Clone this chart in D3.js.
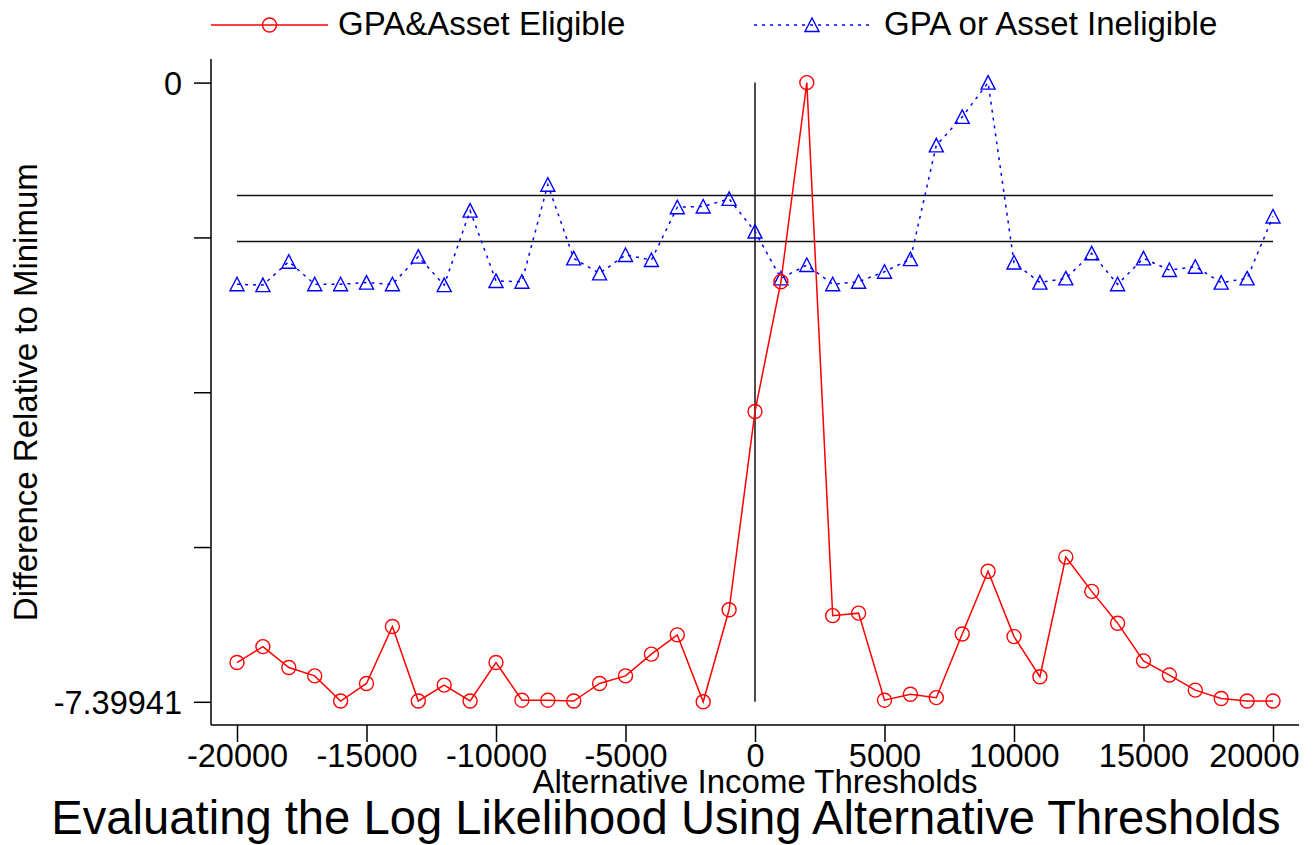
<!DOCTYPE html>
<html>
<head>
<meta charset="utf-8">
<script src="https://cdn.jsdelivr.net/npm/d3@7"></script>
<style>
  html, body { margin: 0; padding: 0; background: #fff; }
  svg { display: block; font-family: "Liberation Sans", Arial, Helvetica, sans-serif; }
</style>
</head>
<body>
<svg id="chart" width="1315" height="845"></svg>
<script>
// Income thresholds (x categories)
const thresholds = [
  -20000, -19000, -18000, -17000, -16000, -15000, -14000, -13000, -12000, -11000,
  -10000, -9000, -8000, -7000, -6000, -5000, -4000, -3000, -2000, -1000,
  0, 1000, 2000, 3000, 4000, 5000, 6000, 7000, 8000, 9000,
  10000, 11000, 12000, 13000, 14000, 15000, 16000, 17000, 18000, 19000, 20000
];

// Log-likelihood difference relative to minimum: GPA & Asset eligible
const eligible = [
  -6.93, -6.74, -6.99, -7.09, -7.39, -7.18, -6.50, -7.39, -7.20, -7.39,
  -6.93, -7.38, -7.38, -7.39, -7.18, -7.09, -6.83, -6.60, -7.39941, -6.30,
  -3.93, -2.38, 0, -6.37, -6.34, -7.38, -7.31, -7.35, -6.59, -5.84,
  -6.62, -7.10, -5.67, -6.08, -6.46, -6.91, -7.08, -7.26, -7.36, -7.39, -7.39
];

// GPA or Asset ineligible
const ineligible = [
  -2.41, -2.42, -2.14, -2.41, -2.41, -2.39, -2.41, -2.08, -2.42, -1.53,
  -2.37, -2.38, -1.22, -2.10, -2.28, -2.06, -2.12, -1.49, -1.48, -1.39,
  -1.78, -2.34, -2.18, -2.41, -2.38, -2.26, -2.11, -0.75, -0.41, 0,
  -2.15, -2.39, -2.34, -2.04, -2.41, -2.10, -2.24, -2.20, -2.39, -2.34, -1.60
];

// Axis ticks
const xTicks = [-20000, -15000, -10000, -5000, 0, 5000, 10000, 15000, 20000];
const yTicks = [0, -1.85, -3.70, -5.55, -7.39941];
const yTickLabels = ["0", "", "", "", "-7.39941"];

// Horizontal reference lines
const refLines = [-1.35, -1.90];

const seriesNames = ["GPA&Asset Eligible", "GPA or Asset Ineligible"];
const seriesColors = ["#ff0000", "#0000ff"];

const svg = d3.select("#chart");
const TICK_FONT = 32.5;
const LABEL_FONT = 33;

const x = d3.scaleLinear().domain([-20000, 20000]).range([237, 1273]);
const y = d3.scaleLinear().domain([-7.39941, 0]).range([701.8, 82.6]);

const axisLeftX = 211, axisBottomY = 725;
const axisTopY = 59, axisRightX = 1299;

// Axis lines
svg.append("line")
  .attr("x1", axisLeftX).attr("x2", axisLeftX)
  .attr("y1", axisTopY).attr("y2", axisBottomY)
  .attr("stroke", "#000").attr("stroke-width", 1.5);
svg.append("line")
  .attr("x1", axisLeftX).attr("x2", axisRightX)
  .attr("y1", axisBottomY).attr("y2", axisBottomY)
  .attr("stroke", "#000").attr("stroke-width", 1.5);

// Y axis
const yAxis = d3.axisLeft(y)
  .tickValues(yTicks)
  .tickSize(17)
  .tickPadding(12)
  .tickFormat((d, i) => yTickLabels[i]);
const gy = svg.append("g").attr("transform", `translate(${axisLeftX},0)`).call(yAxis);
gy.select(".domain").remove();
gy.selectAll(".tick line").attr("stroke", "#000").attr("stroke-width", 1.5);
gy.selectAll(".tick text")
  .attr("font-size", TICK_FONT).attr("font-family", null).attr("fill", "#000")
  .attr("dy", "0.36em");

// X axis (plain hyphen minus signs)
const xAxis = d3.axisBottom(x)
  .tickValues(xTicks)
  .tickSize(17)
  .tickPadding(2)
  .tickFormat(d => String(d));
const gx = svg.append("g").attr("transform", `translate(0,${axisBottomY})`).call(xAxis);
gx.select(".domain").remove();
gx.selectAll(".tick line").attr("stroke", "#000").attr("stroke-width", 1.5);
gx.selectAll(".tick text")
  .attr("font-size", TICK_FONT).attr("font-family", null).attr("fill", "#000")
  .attr("dy", "0.71em");
// keep the last label inside the graph area
gx.selectAll(".tick text")
  .filter(d => d === xTicks[xTicks.length - 1])
  .attr("text-anchor", "end")
  .attr("x", axisRightX - x(xTicks[xTicks.length - 1]));

// Reference lines
svg.selectAll(".ref")
  .data(refLines)
  .enter().append("line")
  .attr("class", "ref")
  .attr("x1", x(-20000)).attr("x2", x(20000))
  .attr("y1", d => y(d)).attr("y2", d => y(d))
  .attr("stroke", "#111").attr("stroke-width", 1.5);

svg.append("line")
  .attr("x1", x(0)).attr("x2", x(0))
  .attr("y1", y(0)).attr("y2", y(-7.39941))
  .attr("stroke", "#111").attr("stroke-width", 1.5);

// Marker shapes
function circlePath(cx, cy) {
  const p = d3.path();
  p.moveTo(cx + 7, cy);
  p.arc(cx, cy, 7, 0, 2 * Math.PI);
  return p.toString();
}
function trianglePath(cx, cy) {
  return `M${cx},${cy - 7}L${cx + 7},${cy + 6.5}L${cx - 7},${cy + 6.5}Z`;
}

const line = d3.line().x(d => x(d.t)).y(d => y(d.v));

function drawSeries(values, color, dash, marker) {
  const data = thresholds.map((t, i) => ({ t, v: values[i] }));
  svg.append("path")
    .datum(data)
    .attr("d", line)
    .attr("fill", "none")
    .attr("stroke", color)
    .attr("stroke-width", 1.5)
    .attr("stroke-dasharray", dash);
  svg.append("g").selectAll("path")
    .data(data)
    .enter().append("path")
    .attr("d", d => marker(x(d.t), y(d.v)))
    .attr("fill", "none")
    .attr("stroke", color)
    .attr("stroke-width", 1.4);
}

drawSeries(ineligible, seriesColors[1], "3,5", trianglePath);
drawSeries(eligible, seriesColors[0], null, circlePath);

// Legend
const legend = [
  { name: seriesNames[0], color: seriesColors[0], x0: 211, x1: 328, dash: null, marker: circlePath, tx: 338 },
  { name: seriesNames[1], color: seriesColors[1], x0: 754, x1: 870, dash: "3,5", marker: trianglePath, tx: 884 }
];
const lg = svg.append("g");
legend.forEach(l => {
  const ly = 25;
  lg.append("line")
    .attr("x1", l.x0).attr("x2", l.x1).attr("y1", ly).attr("y2", ly)
    .attr("stroke", l.color).attr("stroke-width", 1.5)
    .attr("stroke-dasharray", l.dash);
  lg.append("path")
    .attr("d", l.marker((l.x0 + l.x1) / 2, ly))
    .attr("fill", "none").attr("stroke", l.color).attr("stroke-width", 1.4);
  lg.append("text")
    .attr("x", l.tx).attr("y", 35)
    .attr("font-size", LABEL_FONT).attr("fill", "#000")
    .text(l.name);
});

// Axis titles
svg.append("text")
  .attr("transform", `translate(37,${(82.6 + 701.8) / 2}) rotate(-90)`)
  .attr("text-anchor", "middle")
  .attr("font-size", LABEL_FONT).attr("fill", "#000")
  .text("Difference Relative to Minimum");

svg.append("text")
  .attr("x", x(0)).attr("y", 793)
  .attr("text-anchor", "middle")
  .attr("font-size", LABEL_FONT).attr("fill", "#000")
  .text("Alternative Income Thresholds");

// Title
svg.append("text")
  .attr("x", 666).attr("y", 834)
  .attr("text-anchor", "middle")
  .attr("font-size", 47.2).attr("fill", "#000")
  .text("Evaluating the Log Likelihood Using Alternative Thresholds");
</script>
</body>
</html>
